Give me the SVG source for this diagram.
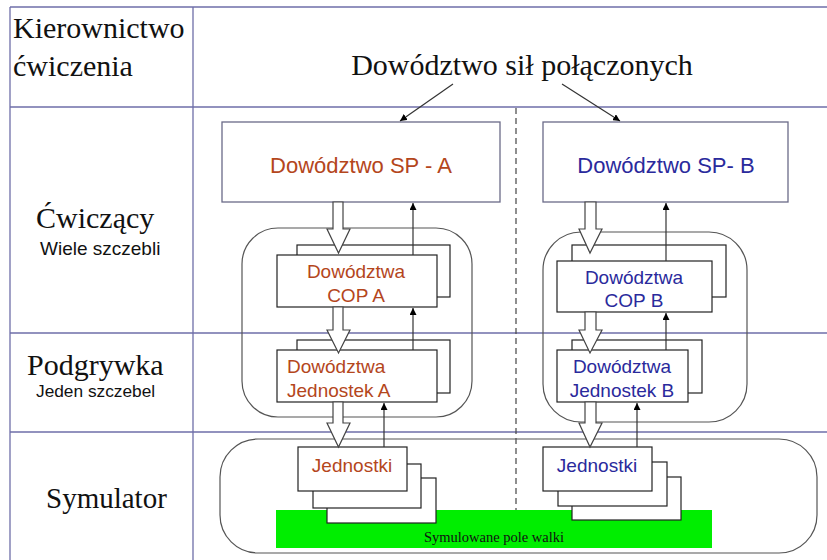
<svg xmlns="http://www.w3.org/2000/svg" width="827" height="560" viewBox="0 0 827 560">
<defs>
<style>
.grid{stroke:#6e6ea8;stroke-width:1.3;fill:none}
.serif{font-family:"Liberation Serif","Times New Roman",serif;fill:#111}
.sans{font-family:"Liberation Sans",Arial,sans-serif}
.small{font-family:"Liberation Sans",Arial,sans-serif;fill:#111}
.ta{fill:#b4461c}
.tb{fill:#2a2a9c}
.sp{fill:#fff;stroke:#6a6a88;stroke-width:1.3}
.box{fill:#fff;stroke:#222;stroke-width:1.2}
.cont{fill:none;stroke:#555;stroke-width:1.2}
.blk{fill:#fff;stroke:#444;stroke-width:1.2}
.ln{stroke:#333;stroke-width:1.2;fill:none;marker-end:url(#ah)}
</style>
<marker id="ah" viewBox="0 0 10 10" refX="10" refY="5" markerWidth="7" markerHeight="7" markerUnits="userSpaceOnUse" orient="auto">
<path d="M0,0 L10,5 L0,10 Z" fill="#000"/>
</marker>
</defs>
<rect width="827" height="560" fill="#fff"/>
<g id="grid">
<line class="grid" x1="10" y1="7" x2="827" y2="7"/>
<line class="grid" x1="10" y1="107" x2="827" y2="107"/>
<line class="grid" x1="10" y1="333" x2="827" y2="333"/>
<line class="grid" x1="10" y1="432" x2="827" y2="432"/>
<line class="grid" x1="10" y1="7" x2="10" y2="560"/>
<line class="grid" x1="193" y1="7" x2="193" y2="560"/>
<line x1="516" y1="108" x2="516" y2="545" stroke="#444" stroke-width="1.2" stroke-dasharray="6,4"/>
</g>
<g id="labels">
<text class="serif" x="13" y="38" font-size="30">Kierownictwo</text>
<text class="serif" x="13" y="76" font-size="30">ćwiczenia</text>
<text class="serif" x="36" y="228" font-size="30">Ćwiczący</text>
<text class="small" x="40" y="255" font-size="19">Wiele szczebli</text>
<text class="serif" x="27" y="375" font-size="30">Podgrywka</text>
<text class="small" x="36" y="397" font-size="17.3">Jeden szczebel</text>
<text class="serif" x="46" y="508" font-size="29">Symulator</text>
</g>
<g id="title">
<text class="serif" x="522" y="75" font-size="30" text-anchor="middle">Dowództwo sił połączonych</text>
</g>
<g id="containers">
<rect id="containerA" class="cont" x="242" y="228" width="230" height="189" rx="36" ry="36"/>
<rect id="containerB" class="cont" x="543" y="232" width="204" height="190" rx="38" ry="38"/>
<rect id="containerSim" class="cont" x="220" y="439" width="597" height="114" rx="38" ry="38"/>
</g>
<g id="field">
<rect x="276" y="510" width="436" height="38" fill="#00ee00"/>
<text class="serif" x="494" y="542" font-size="14.5" text-anchor="middle">Symulowane pole walki</text>
</g>
<g id="spA">
<rect class="sp" x="222" y="122" width="278" height="80"/>
<text class="sans ta" x="361" y="173" font-size="22" text-anchor="middle">Dowództwo SP - A</text>
</g>
<g id="spB">
<rect class="sp" x="543" y="122" width="245" height="80"/>
<text class="sans tb" x="666" y="173" font-size="22" text-anchor="middle">Dowództwo SP- B</text>
</g>
<g id="copA">
<rect class="box" x="297" y="245" width="153" height="52"/>
<rect class="box" x="277" y="255" width="160" height="52"/>
<text class="sans ta" x="356" y="278" font-size="19" text-anchor="middle">Dowództwa</text>
<text class="sans ta" x="356" y="302" font-size="19" text-anchor="middle">COP A</text>
</g>
<g id="jedA">
<rect class="box" x="297" y="340" width="153" height="53"/>
<rect class="box" x="277" y="350" width="160" height="52"/>
<text class="sans ta" x="287" y="373" font-size="19">Dowództwa</text>
<text class="sans ta" x="287" y="397" font-size="19">Jednostek A</text>
</g>
<g id="copB">
<rect class="box" x="572" y="245" width="154" height="52"/>
<rect class="box" x="557" y="261" width="155" height="51"/>
<text class="sans tb" x="634" y="284" font-size="19" text-anchor="middle">Dowództwa</text>
<text class="sans tb" x="634" y="307" font-size="19" text-anchor="middle">COP B</text>
</g>
<g id="jedB">
<rect class="box" x="572" y="340" width="130" height="53"/>
<rect class="box" x="557" y="350" width="131" height="52"/>
<text class="sans tb" x="622" y="373" font-size="19" text-anchor="middle">Dowództwa</text>
<text class="sans tb" x="622" y="397" font-size="19" text-anchor="middle">Jednostek B</text>
</g>
<g id="unitsA">
<rect class="box" x="327" y="478" width="109" height="45"/>
<rect class="box" x="313" y="464" width="108" height="44"/>
<rect class="box" x="298" y="447" width="109" height="44"/>
<text class="sans ta" x="352" y="472" font-size="19" text-anchor="middle">Jednostki</text>
</g>
<g id="unitsB">
<rect class="box" x="572" y="477" width="109" height="43"/>
<rect class="box" x="558" y="462" width="109" height="44"/>
<rect class="box" x="543" y="447" width="109" height="44"/>
<text class="sans tb" x="597" y="472" font-size="19" text-anchor="middle">Jednostki</text>
</g>
<g id="connectors">
<line class="ln" x1="453" y1="84" x2="400" y2="121"/>
<line class="ln" x1="562" y1="84" x2="620" y2="121"/>
<path class="blk" d="M333,202 V229 H327 L338.5,253 L350,229 H343 V202 Z"/>
<path class="blk" d="M333,307 V330 H327 L338.5,353 L350,330 H343 V307 Z"/>
<path class="blk" d="M333,402 V423 H327 L338.5,447 L350,423 H343 V402 Z"/>
<path class="blk" d="M585,202 V229 H579 L590,253 L602,229 H596 V202 Z"/>
<path class="blk" d="M585,312 V330 H579 L590,353 L602,330 H596 V312 Z"/>
<path class="blk" d="M585,402 V423 H579 L590,447 L602,423 H596 V402 Z"/>
<line class="ln" x1="413" y1="255" x2="413" y2="203"/>
<line class="ln" x1="413" y1="350" x2="413" y2="308"/>
<line class="ln" x1="384" y1="447" x2="384" y2="403"/>
<line class="ln" x1="666" y1="261" x2="666" y2="203"/>
<line class="ln" x1="666" y1="350" x2="666" y2="313"/>
<line class="ln" x1="637" y1="447" x2="637" y2="403"/>
</g>
</svg>
